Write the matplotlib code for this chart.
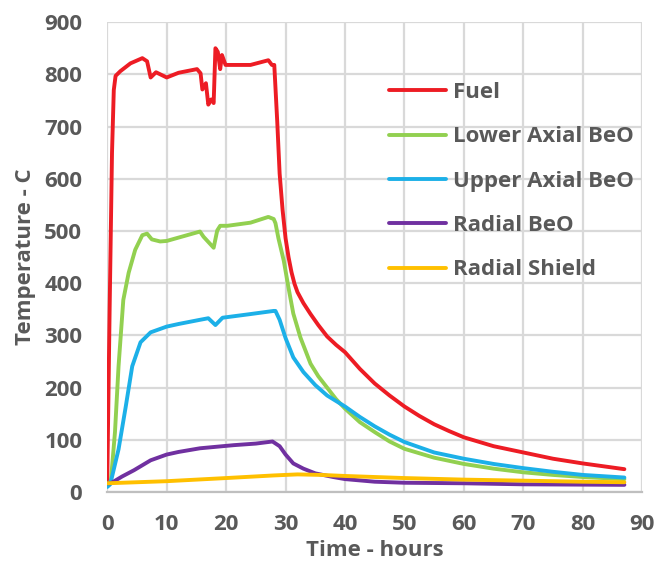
import matplotlib
matplotlib.use('Agg')
import matplotlib.pyplot as plt

plt.rcParams['font.family'] = ['Open Sans', 'DejaVu Sans']
plt.rcParams['font.weight'] = 'bold'

# time (hours) and temperature (C) for each component
fuel_t = [0, 0.4, 0.8, 1.1, 1.4, 2.2, 3.9, 5.9, 6.7, 7.3, 8.2, 10, 12, 15.1, 15.7, 16.0, 16.6,
          17.0, 17.5, 17.9, 18.2, 18.6, 19.0, 19.3, 19.9, 24.1, 27.1, 27.7, 28.1, 28.6, 29.0,
          29.5, 30, 30.5, 31, 31.5, 32, 33, 34.2, 35.5, 37, 38.5, 40, 42.5, 45, 47.5, 50, 52.5,
          55, 57.5, 60, 65, 70, 75, 80, 87]
fuel_T = [20, 350, 650, 770, 797, 806, 821, 831, 825, 794, 804, 794, 803, 810, 802, 771, 783,
          742, 752, 745, 850, 843, 810, 837, 818, 818, 827, 818, 818, 709, 610,
          540, 486, 450, 421, 399, 383, 362, 341, 320, 298, 282, 268, 236, 208, 185, 164, 146,
          130, 117, 105, 88, 76, 64, 55, 44]

lower_t = [0, 0.6, 1.3, 1.9, 2.7, 3.6, 4.7, 5.9, 6.7, 7.5, 8.9, 10, 15.6, 16.2, 17.9, 18.5,
           19.0, 20.2, 24.1, 27.1, 28.0, 28.3, 28.8, 29.7, 30.5, 31.3, 32.5, 34.2, 35.5, 37,
           38.5, 40, 42.5, 45, 47.5, 50, 55, 60, 65, 70, 75, 80, 87]
lower_T = [17, 20, 115, 241, 368, 420, 464, 492, 495, 484, 480, 481, 499, 489, 468, 501,
           510, 510, 516, 527, 523, 515, 486, 443, 391, 342, 296, 246, 222, 200,
           178, 160, 134, 115, 97, 83, 66, 54, 45, 38, 33, 29, 25]

upper_t = [0, 0.5, 1.9, 3.1, 4.2, 5.6, 7.3, 10, 12, 15.6, 17.0, 18.2, 19.4, 24.1, 28.0, 28.3,
           29, 30, 31.3, 33, 35, 37, 40, 42.5, 45, 47.5, 50, 55, 60, 65, 70, 75, 80, 87]
upper_T = [10, 15, 82, 163, 241, 287, 306, 317, 322, 330, 333, 320, 334, 341, 347, 347,
           330, 295, 258, 230, 205, 185, 164, 144, 126, 110, 96, 76, 64, 54, 46, 39, 33, 28]

radial_t = [0, 0.6, 2.5, 4.5, 7.3, 10, 12, 15.6, 21.3, 25, 27.8, 29, 30, 31.3, 33, 35, 38, 40,
            45, 50, 60, 70, 87]
radial_T = [17, 17, 30, 42, 61, 72, 77, 84, 90, 93, 97, 88, 72, 55, 45, 36, 29, 25,
            20, 18, 17, 15, 14]

shield_t = [0, 10, 20, 28, 32, 36, 40, 50, 60, 70, 80, 87]
shield_T = [17, 21, 27, 32, 34, 33, 31, 27, 24, 22, 20, 19]

series = [
    ('Fuel', fuel_t, fuel_T, '#ED1C24'),
    ('Lower Axial BeO', lower_t, lower_T, '#92D050'),
    ('Upper Axial BeO', upper_t, upper_T, '#1CB0E8'),
    ('Radial BeO', radial_t, radial_T, '#7030A0'),
    ('Radial Shield', shield_t, shield_T, '#FFC000'),
]

txt = '#595959'
fig = plt.figure(figsize=(6.58, 5.67), dpi=100)
ax = fig.add_axes([0.163, 0.132, 0.813, 0.829])

for name, t, T, c in series:
    ax.plot(t, T, color=c, lw=2.8, label=name, solid_capstyle='round', solid_joinstyle='round')

ax.set_xlim(0, 90)
ax.set_ylim(0, 900)
ax.set_xticks(range(0, 91, 10))
ax.set_yticks(range(0, 901, 100))
ax.grid(True, color='#D9D9D9', lw=1.6)
ax.set_axisbelow(True)
for s in ['top', 'right', 'left']:
    ax.spines[s].set_visible(False)
ax.spines['bottom'].set_color('#BFBFBF')
ax.spines['bottom'].set_linewidth(1.6)
ax.tick_params(length=0, labelsize=16, labelcolor=txt)
ax.tick_params(axis='y', pad=18)
ax.tick_params(axis='x', pad=16)

ax.set_xlabel('Time - hours', fontsize=16, color=txt, fontweight='bold', labelpad=3)
ax.set_ylabel('Temperature - C', fontsize=16, color=txt, fontweight='bold', labelpad=6)

leg = ax.legend(loc='upper left', bbox_to_anchor=(0.49, 0.915), frameon=False,
                fontsize=16, handlelength=2.55, handletextpad=0.3, labelspacing=1.05)
for tx in leg.get_texts():
    tx.set_color(txt)

fig.savefig('out.png', dpi=100)
